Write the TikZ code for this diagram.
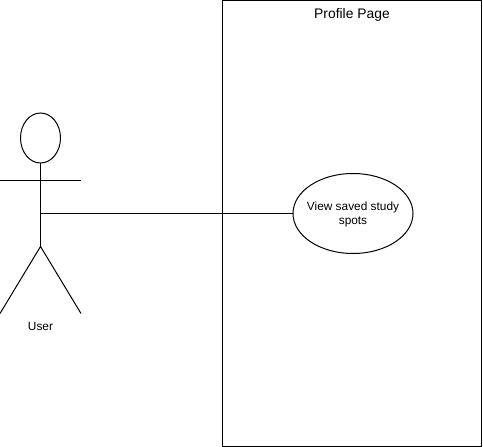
\documentclass[tikz,border=0pt]{standalone}
\usepackage{fontspec}
\setmainfont{Liberation Sans}
\usetikzlibrary{shapes.geometric}
\tikzset{
  every path/.style={line width=0.75pt},
  lbl/.style={font=\fontsize{8.9}{10.5}\selectfont,align=center,inner sep=0pt},
  shapeline/.style={draw,line width=0.75pt,inner sep=0pt,outer sep=0pt},
}
\begin{document}
\begin{tikzpicture}[x=0.75pt,y=-0.75pt]
\useasboundingbox[fill=white] (0,0) rectangle (483,447);
\node[shapeline,anchor=north west,minimum width=194.25pt,minimum height=334.5pt] (sys) at (222.5,0.5) {};
\node[lbl,font=\fontsize{10.4}{12}\selectfont] (title) at (352,14.5) {Profile Page};
\node[shapeline,ellipse,minimum width=90pt,minimum height=60pt] (uc) at (353,213.5) {};
\node[lbl] (uct) at (353,214.5) {View saved study\\spots};
\node[shapeline,ellipse,minimum width=30pt,minimum height=37.5pt] (head) at (40.5,138) {};
\coordinate (hip) at (40.5,246.5);
\coordinate (armL) at (0,180);
\coordinate (armR) at (81,180);
\coordinate (footL) at (0,313.5);
\coordinate (footR) at (81,313.5);
\coordinate (torso) at (40.5,213.5);
\draw (head.south) -- (hip);
\draw (armL) -- (armR);
\draw (footL) -- (hip) -- (footR);
\draw (torso) -- (uc.west);
\node[lbl] (user) at (40.5,326.5) {User};
\end{tikzpicture}
\end{document}
